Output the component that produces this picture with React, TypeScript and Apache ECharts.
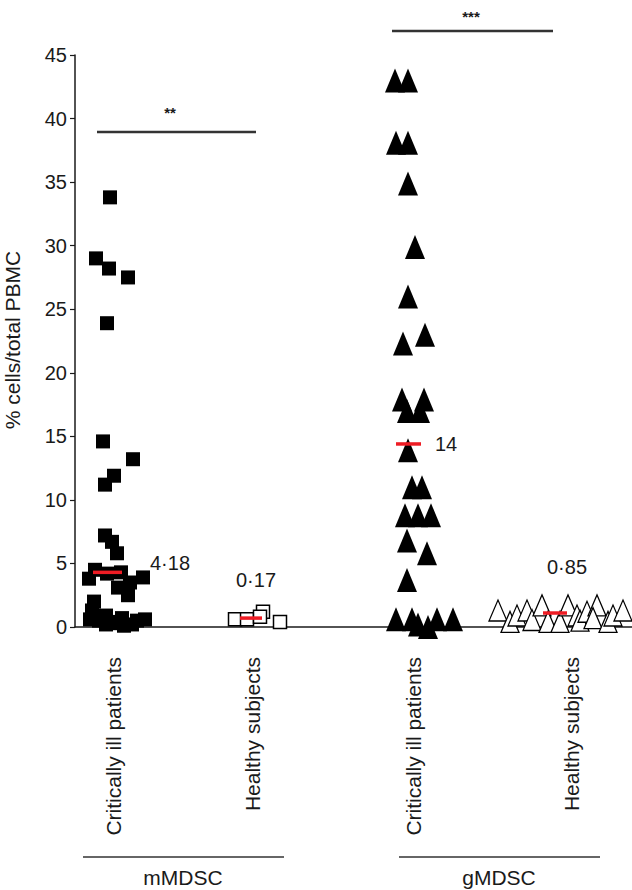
import React, { useEffect, useRef } from "react";
import * as echarts from "echarts";

// y range / ticks
const Y_MIN = 0;
const Y_MAX = 45;
const Y_STEP = 5;

// category positions along the x axis (axis units) and their labels
const categoryPositions = [38, 177, 338, 496];
const categoryLabels = [
  "Critically ill patients",
  "Healthy subjects",
  "Critically ill patients",
  "Healthy subjects",
];

// mMDSC – critically ill patients [x position, % cells]
const mCritical = [
  [35, 33.8], [21, 29.0], [34, 28.2], [53, 27.5], [32, 23.9], [28, 14.6], [58, 13.2],
  [39, 11.9], [30, 11.2], [30, 7.2], [37, 6.7], [42, 5.8], [20, 4.5], [14, 3.8],
  [32, 4.2], [46, 4.3], [68, 3.9], [55, 3.5], [43, 3.1], [53, 2.5], [19, 2.0],
  [17, 1.3], [15, 0.6], [24, 0.5], [31, 0.9], [31, 0.2], [42, 0.4], [47, 0.7],
  [49, 0.1], [57, 0.2], [62, 0.5], [70, 0.6], [37, 0.3],
];

// mMDSC – healthy subjects
const mHealthy = [
  [160, 0.6], [172, 0.6], [188, 1.2], [185, 0.8], [205, 0.4],
];

// gMDSC – critically ill patients
const gCritical = [
  [320, 43.0], [333, 43.0], [321, 38.1], [333, 38.1], [333, 34.9], [340, 29.9],
  [333, 26.0], [350, 23.0], [328, 22.3], [327, 17.9], [349, 17.9], [332, 17.0],
  [345, 17.0], [333, 13.9], [337, 11.0], [347, 11.0], [330, 8.8], [343, 8.8],
  [356, 8.8], [332, 6.8], [352, 5.8], [332, 3.7], [321, 0.6], [337, 0.6],
  [343, 0.2], [353, 0.0], [362, 0.6], [378, 0.6],
];

// gMDSC – healthy subjects
const gHealthy = [
  [423, 1.3], [435, 0.4], [442, 0.9], [452, 1.3], [457, 0.55], [467, 1.7],
  [473, 0.4], [485, 0.4], [493, 1.7], [502, 0.9], [505, 0.5], [512, 1.2],
  [522, 1.7], [518, 0.7], [533, 0.4], [538, 0.9], [548, 1.3],
];

// medians: [x position, drawn value], printed label
const medianPositions = [[32.5, 4.3], [176, 0.7], [333.5, 14.4], [480, 1.1]];
const medianLabels = ["4\u00b718", "0\u00b717", "14", "0\u00b785"];

const FONT = "'Liberation Sans', Arial, Helvetica, sans-serif";
const INK = "#1a1a1a";

export default function App() {
  const ref = useRef<HTMLDivElement>(null);

  useEffect(() => {
    document.body.style.margin = "0";
    if (!ref.current) return;
    const chart = echarts.init(ref.current, null, { renderer: "svg" });

    const medianWidths = [29, 22, 25, 24];
    const medianLabelCfg = [
      { position: "right", distance: 28, offset: [0, -9] },
      { position: "top", distance: 26, offset: [5, 0] },
      { position: "right", distance: 14, offset: [0, 0] },
      { position: "top", distance: 34, offset: [12, 0] },
    ];

    const option: any = {
      animation: false,
      textStyle: { fontFamily: FONT },
      grid: { left: 75, right: 0, top: 55, bottom: 263, containLabel: false },
      xAxis: {
        type: "value",
        min: 0,
        max: 557,
        axisLine: { show: true, lineStyle: { color: INK, width: 1.5 } },
        axisTick: { show: false },
        splitLine: { show: false },
        axisLabel: {
          customValues: categoryPositions,
          rotate: 90,
          margin: 30,
          fontSize: 21,
          color: INK,
          fontFamily: FONT,
          formatter: (v: number) => {
            const i = categoryPositions.indexOf(v);
            return i >= 0 ? categoryLabels[i] : "";
          },
        },
      },
      yAxis: {
        type: "value",
        min: Y_MIN,
        max: Y_MAX,
        interval: Y_STEP,
        axisLine: { show: true, lineStyle: { color: INK, width: 1.5 } },
        axisTick: { show: true, inside: false, length: 5, lineStyle: { color: INK, width: 1.2 } },
        splitLine: { show: false },
        axisLabel: { fontSize: 20, color: INK, margin: 8, fontFamily: FONT },
      },
      series: [
        {
          type: "scatter",
          data: mCritical,
          symbol: "rect",
          symbolSize: 14,
          itemStyle: { color: "#000", opacity: 1 },
          z: 2,
        },
        {
          type: "scatter",
          data: mHealthy,
          symbol: "rect",
          symbolSize: 13,
          itemStyle: { color: "#fff", borderColor: "#000", borderWidth: 1.5, opacity: 1 },
          z: 2,
        },
        {
          type: "scatter",
          data: gCritical,
          symbol: "triangle",
          symbolSize: [20, 24],
          itemStyle: { color: "#000", opacity: 1 },
          z: 2,
        },
        {
          type: "scatter",
          data: gHealthy,
          symbol: "triangle",
          symbolSize: [18, 21],
          itemStyle: { color: "#fff", borderColor: "#000", borderWidth: 1.3, opacity: 1 },
          z: 2,
        },
        {
          type: "scatter",
          z: 5,
          symbol: "rect",
          itemStyle: { color: "#ee1c24", opacity: 1 },
          data: medianPositions.map((p, i) => ({
            value: p,
            symbolSize: [medianWidths[i], 3.5],
            label: {
              show: true,
              formatter: medianLabels[i],
              fontSize: 20,
              color: INK,
              fontFamily: FONT,
              ...medianLabelCfg[i],
            },
          })),
        },
      ],
      graphic: [
        // significance bars
        { type: "line", shape: { x1: 97, y1: 132, x2: 256, y2: 132 }, style: { stroke: "#333", lineWidth: 2.5 } },
        { type: "text", x: 170, y: 112, style: { text: "**", fill: INK, align: "center", verticalAlign: "middle", font: `bold 15px ${FONT}` } },
        { type: "line", shape: { x1: 392, y1: 31, x2: 553, y2: 31 }, style: { stroke: "#333", lineWidth: 2.5 } },
        { type: "text", x: 471, y: 16, style: { text: "***", fill: INK, align: "center", verticalAlign: "middle", font: `bold 15px ${FONT}` } },
        // group brackets
        { type: "line", shape: { x1: 83, y1: 857, x2: 284, y2: 857 }, style: { stroke: "#333", lineWidth: 1.5 } },
        { type: "text", x: 183, y: 877, style: { text: "mMDSC", fill: INK, align: "center", verticalAlign: "middle", font: `21px ${FONT}` } },
        { type: "line", shape: { x1: 399, y1: 857, x2: 600, y2: 857 }, style: { stroke: "#333", lineWidth: 1.5 } },
        { type: "text", x: 499, y: 877, style: { text: "gMDSC", fill: INK, align: "center", verticalAlign: "middle", font: `21px ${FONT}` } },
        // y axis title
        {
          type: "text",
          x: 12,
          y: 340,
          rotation: Math.PI / 2,
          style: { text: "% cells/total PBMC", fill: INK, align: "center", verticalAlign: "middle", font: `21px ${FONT}` },
        },
      ],
    };

    chart.setOption(option);
    return () => chart.dispose();
  }, []);

  return (
    <div
      ref={ref}
      style={{ position: "absolute", left: 0, top: 0, width: 632, height: 890 }}
    />
  );
}
